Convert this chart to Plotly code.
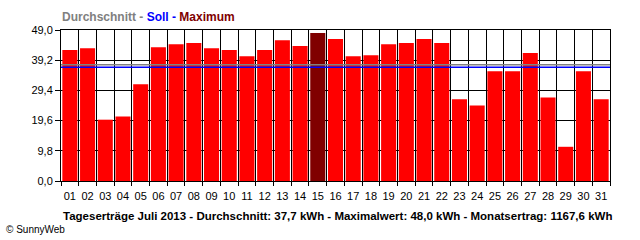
import plotly.graph_objects as go

days = [f"{d:02d}" for d in range(1, 32)]
ertrag = [42.5, 43.1, 19.9, 20.9, 31.4, 43.4, 44.4, 44.8, 43.1, 42.5,
          40.5, 42.5, 45.7, 43.8, 48.0, 46.1, 40.5, 40.8, 44.4, 44.8,
          46.1, 44.8, 26.5, 24.5, 35.6, 35.6, 41.5, 27.1, 11.1, 35.6, 26.5]
durchschnitt = 37.7
soll = 36.9
y_ticks = [0.0, 9.8, 19.6, 29.4, 39.2, 49.0]
y_ticktext = [f"{v:.1f}".replace(".", ",") for v in y_ticks]

vmax = max(ertrag)
colors = ["#800000" if v == vmax else "#FF0000" for v in ertrag]

fig = go.Figure()
fig.add_trace(go.Bar(x=days, y=ertrag, marker=dict(color=colors, line=dict(width=0)),
                     hoverinfo="x+y"))

fig.add_shape(type="line", xref="paper", x0=0, x1=1, yref="y", y0=durchschnitt, y1=durchschnitt,
              line=dict(color="#808080", width=1.5))
fig.add_shape(type="line", xref="paper", x0=0, x1=1, yref="y", y0=soll, y1=soll,
              line=dict(color="#0000FF", width=1.5))

font = "Liberation Sans, Arial, sans-serif"
fig.update_layout(
    width=640, height=240,
    margin=dict(l=61, r=30, t=30, b=59),
    paper_bgcolor="white", plot_bgcolor="white",
    showlegend=False,
    bargap=0.15,
    font=dict(family=font, size=11, color="black"),
    xaxis=dict(type="category", tickson="boundaries", showgrid=True, gridcolor="black", gridwidth=1,
               showline=True, linecolor="black", linewidth=1, mirror=True,
               ticks="outside", ticklen=4, tickcolor="black", ticklabelstandoff=5, tickangle=0,
               tickfont=dict(family=font, size=11, color="black")),
    yaxis=dict(range=[0, 49], tickvals=y_ticks, ticktext=y_ticktext, showgrid=True,
               gridcolor="black", gridwidth=1, zeroline=False,
               showline=True, linecolor="black", linewidth=1, mirror=True,
               ticks="outside", ticklen=5, tickcolor="black",
               tickfont=dict(family=font, size=11, color="black")),
    annotations=[
        dict(xref="paper", yref="paper", x=-0.002, y=(181 - 16.5) / 151, xanchor="left", yanchor="middle",
             showarrow=False,
             text="<b><span style='color:#808080'>Durchschnitt - </span>"
                  "<span style='color:#0000FF'>Soll - </span>"
                  "<span style='color:#800000'>Maximum</span></b>",
             font=dict(family=font, size=12)),
        dict(xref="paper", yref="paper", x=(337 - 61) / 549, y=(181 - 215.5) / 151,
             xanchor="center", yanchor="middle", showarrow=False,
             text="<b>Tageserträge Juli 2013 - Durchschnitt: 37,7 kWh - Maximalwert: 48,0 kWh - Monatsertrag: 1167,6 kWh</b>",
             font=dict(family=font, size=11.5, color="black")),
        dict(xref="paper", yref="paper", x=(4 - 61) / 549, y=(181 - 229) / 151,
             xanchor="left", yanchor="middle", showarrow=False,
             text="© SunnyWeb", font=dict(family=font, size=10, color="black")),
    ],
)

fig.write_html("out.html")
